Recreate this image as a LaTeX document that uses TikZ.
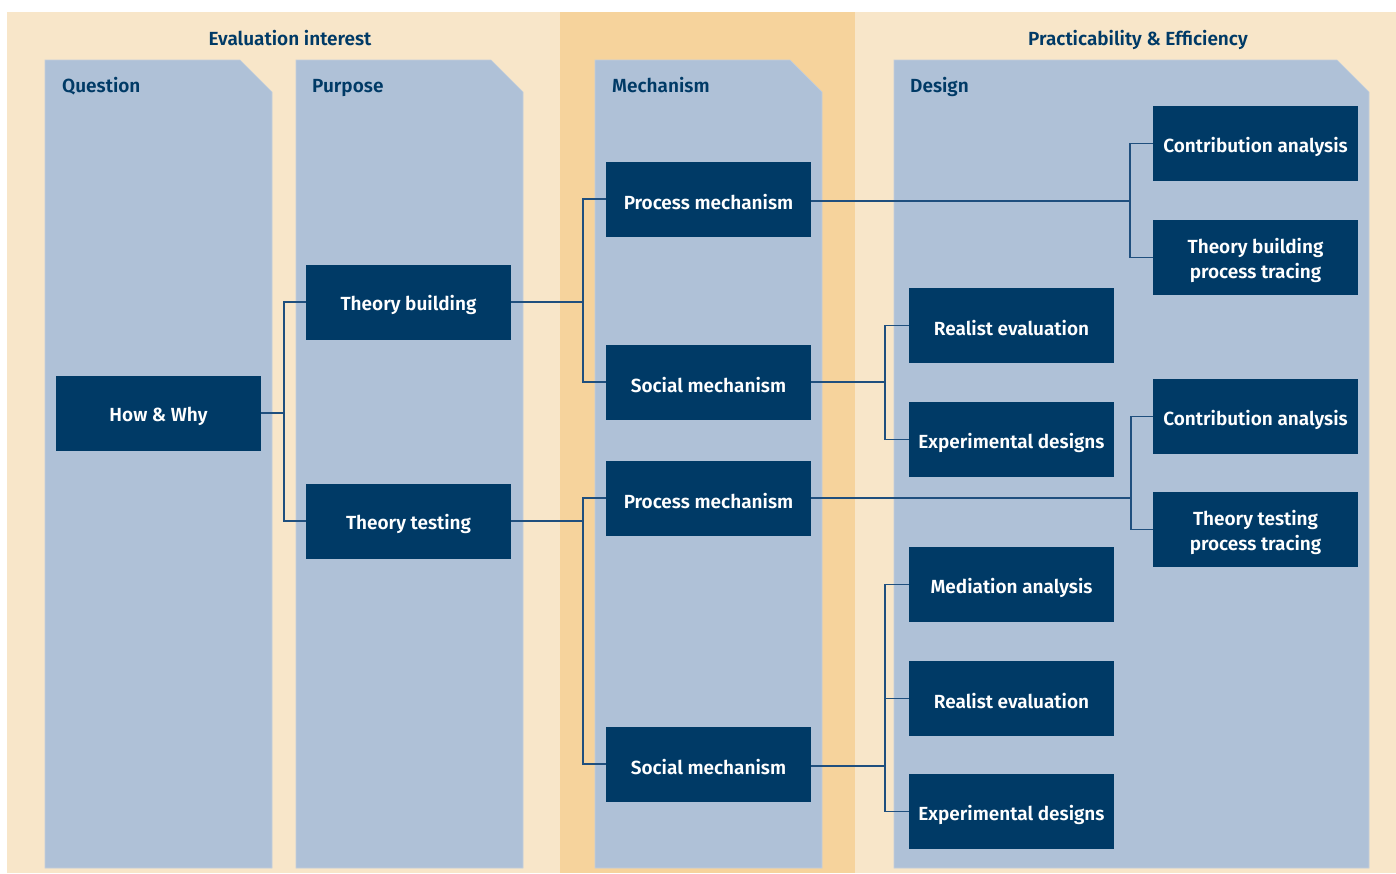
\documentclass[tikz,border=0pt]{standalone}
\usepackage{fontspec}
\IfFontExistsTF{Fira Sans SemiBold}
  {\setmainfont{Fira Sans}[BoldFont={Fira Sans SemiBold}]}
  {\setmainfont{Fira Sans}}
\definecolor{beigeLight}{HTML}{F8E6C9}
\definecolor{beigeDark}{HTML}{F6D39C}
\definecolor{colBlue}{HTML}{AFC1D7}
\definecolor{colEdge}{HTML}{C3CEDB}
\definecolor{navy}{HTML}{003A66}
\definecolor{linkBlue}{HTML}{1F4F7E}
\begin{document}
\begin{tikzpicture}[x=1pt,y=-1pt,
  column/.style={fill=colBlue,draw=colEdge,line width=0.6pt},
  methodtext/.style={text=white,inner sep=0pt,align=center,yshift=-3pt,
    font=\fontsize{19}{25.5}\selectfont\bfseries},
  method/.style={fill=navy,minimum width=205pt,minimum height=75pt,inner sep=0pt,
    label={[methodtext]center:{#1}}},
  heading/.style={text=navy,inner sep=0pt,font=\fontsize{19}{22}\selectfont\bfseries},
  link/.style={draw=linkBlue,line width=1.3pt}]
\useasboundingbox (0,0) rectangle (1396,873);
% background bands
\fill[beigeLight] (7,12) rectangle (1396,873);
\fill[beigeDark] (560,12) rectangle (855,873);
% columns with a cut top-right corner
\path[column] (45,60) -- (240,60) -- (272,92) -- (272,868) -- (45,868) -- cycle;
\path[column] (296,60) -- (491,60) -- (523,92) -- (523,868) -- (296,868) -- cycle;
\path[column] (595,60) -- (790,60) -- (822,92) -- (822,868) -- (595,868) -- cycle;
\path[column] (894,60) -- (1337,60) -- (1369,92) -- (1369,868) -- (894,868) -- cycle;
% headings
\node[heading,anchor=base] (hEval) at (290,45) {Evaluation interest};
\node[heading,anchor=base] (hPract) at (1138,45) {Practicability \& Efficiency};
\node[heading,anchor=base west] (hQuest) at (62,92) {Question};
\node[heading,anchor=base west] (hPurp) at (312,92) {Purpose};
\node[heading,anchor=base west] (hMech) at (612,92) {Mechanism};
\node[heading,anchor=base west] (hDesign) at (910,92) {Design};
% boxes
\node[method={How \& Why}] (hw) at (158.5,413) {};
\node[method={Theory building}] (tb) at (408.5,302) {};
\node[method={Theory testing}] (tt) at (408.5,521) {};
\node[method={Process mechanism}] (pm1) at (708.5,199) {};
\node[method={Social mechanism}] (sm1) at (708.5,382) {};
\node[method={Process mechanism}] (pm2) at (708.5,498) {};
\node[method={Social mechanism}] (sm2) at (708.5,764) {};
\node[method={Contribution analysis}] (ca1) at (1255.5,143.5) {};
\node[method={Theory building\\process tracing}] (tbpt) at (1255.5,257.5) {};
\node[method={Realist evaluation}] (re1) at (1011.5,325.5) {};
\node[method={Experimental designs}] (ed1) at (1011.5,439.5) {};
\node[method={Contribution analysis}] (ca2) at (1255.5,416.5) {};
\node[method={Theory testing\\process tracing}] (ttpt) at (1255.5,529.5) {};
\node[method={Mediation analysis}] (ma) at (1011.5,584.5) {};
\node[method={Realist evaluation}] (re2) at (1011.5,698.5) {};
\node[method={Experimental designs}] (ed2) at (1011.5,811.5) {};
% branch points
\coordinate (jHW) at (284,413);
\coordinate (jTB) at (583,302);
\coordinate (jTT) at (583,521);
\coordinate (jPM1) at (1130,201);
\coordinate (jSM1) at (885,382);
\coordinate (jPM2) at (1131,498);
\coordinate (jSM2) at (885,766);
% connectors
\path[link] (hw.east) -- (jHW);
\path[link] (tb.west) -| (jHW) |- (tt.west);
\path[link] (tb.east) -- (jTB);
\path[link] (pm1.west) -| (jTB) |- (sm1.west);
\path[link] (tt.east) -- (jTT);
\path[link] (pm2.west) -| (jTT) |- (sm2.west);
\path[link] (pm1.east |- jPM1) -- (jPM1);
\path[link] (ca1.west) -| (jPM1) |- (tbpt.west);
\path[link] (sm1.east) -- (jSM1);
\path[link] (re1.west) -| (jSM1) |- (ed1.west);
\path[link] (pm2.east) -- (jPM2);
\path[link] (ca2.west) -| (jPM2) |- (ttpt.west);
\path[link] (sm2.east |- jSM2) -- (jSM2);
\path[link] (ma.west) -| (jSM2) |- (ed2.west);
\path[link] (jSM2) -- (re2.west -| jSM2) -- (re2.west);
\end{tikzpicture}
\end{document}
